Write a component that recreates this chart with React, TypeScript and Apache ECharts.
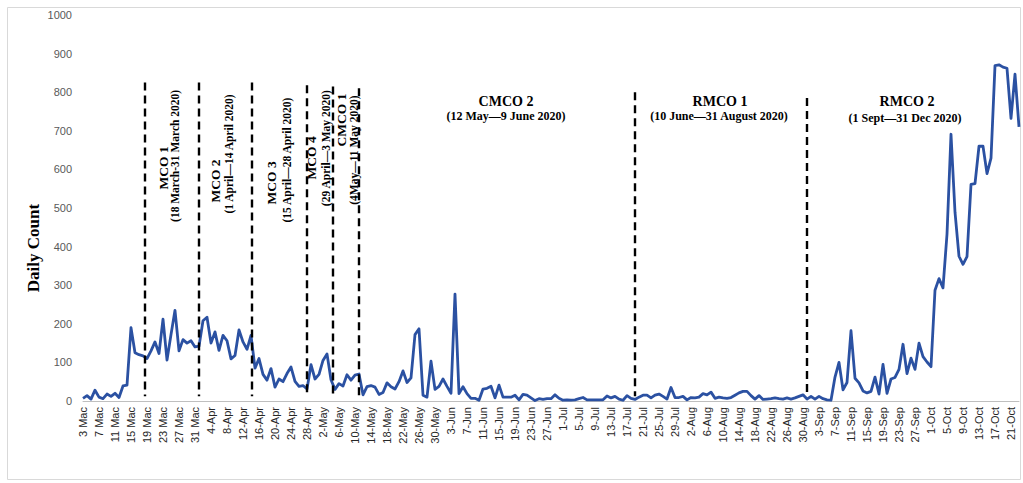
import React, { useEffect, useRef } from "react";
import * as echarts from "echarts";

// Daily counts, 3 March – 23 October 2020
const marchCases = [7, 14, 5, 28, 10, 6, 18, 12, 20, 9, 39, 41, 190, 125, 120, 117, 110, 130, 153, 123, 212, 106, 172, 235, 130, 159, 150, 156, 140];
const aprilCases = [142, 208, 217, 150, 179, 131, 170, 156, 109, 118, 184, 153, 134, 170, 85, 110, 69, 54, 84, 36, 57, 50, 71, 88, 51, 38, 40, 31, 94, 57];
const mayCases = [69, 105, 122, 55, 30, 45, 39, 68, 54, 67, 70, 16, 37, 40, 36, 17, 22, 47, 37, 31, 50, 78, 48, 60, 172, 187, 15, 10, 103, 30, 38];
const juneCases = [57, 38, 20, 277, 19, 37, 19, 7, 7, 2, 31, 33, 38, 8, 41, 10, 10, 10, 15, 3, 17, 15, 8, 1, 6, 4, 6, 6, 16, 7];
const julyCases = [2, 3, 2, 3, 6, 9, 3, 3, 3, 3, 3, 13, 8, 12, 5, 2, 14, 7, 4, 10, 15, 15, 8, 15, 18, 12, 5, 35, 9, 9, 12];
const augustCases = [3, 9, 8, 10, 19, 16, 23, 7, 10, 8, 7, 9, 15, 21, 25, 25, 14, 5, 14, 4, 5, 6, 8, 6, 5, 8, 5, 8, 12, 16, 5];
const septemberCases = [12, 5, 12, 6, 3, 2, 62, 100, 29, 48, 182, 59, 47, 26, 21, 25, 62, 18, 95, 20, 57, 61, 82, 147, 71, 111, 82, 150, 115, 101];
const octoberCases = [89, 287, 317, 293, 432, 691, 489, 375, 354, 374, 561, 563, 660, 660, 589, 629, 869, 871, 865, 862, 732, 847, 710];

const dailyCases = [
  ...marchCases, ...aprilCases, ...mayCases, ...juneCases,
  ...julyCases, ...augustCases, ...septemberCases, ...octoberCases,
];

// One tick label every 4 days
const tickLabels = [
  "3 Mac", "7 Mac", "11 Mac", "15 Mac", "19 Mac", "23 Mac", "27 Mac", "31 Mac",
  "4-Apr", "8-Apr", "12-Apr", "16-Apr", "20-Apr", "24-Apr", "28-Apr",
  "2-May", "6-May", "10-May", "14-May", "18-May", "22-May", "26-May", "30-May",
  "3-Jun", "7-Jun", "11-Jun", "15-Jun", "19-Jun", "23-Jun", "27-Jun",
  "1-Jul", "5-Jul", "9-Jul", "13-Jul", "17-Jul", "21-Jul", "25-Jul", "29-Jul",
  "2-Aug", "6-Aug", "10-Aug", "14-Aug", "18-Aug", "22-Aug", "26-Aug", "30-Aug",
  "3-Sep", "7-Sep", "11-Sep", "15-Sep", "19-Sep", "23-Sep", "27-Sep",
  "1-Oct", "5-Oct", "9-Oct", "13-Oct", "17-Oct", "21-Oct",
];
const tickStep = 4;

// Phase boundary lines (day index from 3 March) and their top values
const phaseLineDays = [15.5, 29, 42.3, 56, 62.5, 69, 138, 181];
const phaseLineTops = [825, 825, 825, 818, 815, 810, 800, 785];
const phaseLineBottom = 12;

// Vertical (rotated) phase labels: [text, day, value, isTitle]
const rotatedLabels: [string, number, number, boolean][] = [
  ["MCO 1", 20, 604, true],
  ["(18 March-31 March 2020)", 23, 635, false],
  ["MCO 2", 33, 570, true],
  ["(1 April—14 April 2020)", 36.5, 640, false],
  ["MCO 3", 47.2, 565, true],
  ["(15 April—28 April 2020)", 51, 624, false],
  ["MCO 4", 57, 630, true],
  ["(29 April—3 May 2020)", 60.8, 655, false],
  ["CMCO 1", 64.5, 728, true],
  ["(4May—11 May 2020)", 67.8, 650, false],
];

// Horizontal phase labels: [text, day, value, isTitle]
const flatLabels: [string, number, number, boolean][] = [
  ["CMCO 2", 105.75, 777, true],
  ["(12 May—9 June 2020)", 105.75, 738, false],
  ["RMCO 1", 159.25, 777, true],
  ["(10 June—31 August 2020)", 159.0, 738, false],
  ["RMCO 2", 206, 775, true],
  ["(1 Sept—31 Dec 2020)", 205.5, 733, false],
];

const yAxisTitle = "Daily Count";

export default function App() {
  const ref = useRef<HTMLDivElement>(null);

  useEffect(() => {
    if (!ref.current) return;
    const chart = echarts.init(ref.current, undefined, { renderer: "svg" });
    const lastDay = dailyCases.length - 1;

    const option: any = {
      animation: false,
      backgroundColor: "#ffffff",
      grid: { left: 83, right: 4, top: 15, bottom: 82, containLabel: false },
      xAxis: {
        type: "value",
        min: 0,
        max: lastDay,
        interval: tickStep,
        axisLine: { show: true, lineStyle: { color: "#bfbfbf", width: 1 } },
        axisTick: { show: false },
        splitLine: { show: false },
        axisLabel: {
          rotate: 90,
          margin: 6,
          fontSize: 11,
          fontFamily: "Liberation Sans",
          color: "#262626",
          showMaxLabel: false,
          formatter: (v: number) =>
            v % tickStep === 0 && tickLabels[v / tickStep] ? tickLabels[v / tickStep] : "",
        },
      },
      yAxis: {
        type: "value",
        min: 0,
        max: 1000,
        interval: 100,
        axisLine: { show: false },
        axisTick: { show: false },
        splitLine: { show: false },
        axisLabel: {
          margin: 11,
          fontSize: 11,
          fontFamily: "Liberation Sans",
          color: "#595959",
          formatter: (v: number) => String(v),
        },
      },
      series: [
        {
          type: "line",
          data: dailyCases.map((v, i) => [i, v]),
          showSymbol: false,
          symbol: "none",
          lineStyle: { color: "#2b51a2", width: 2.8, join: "round" },
          z: 3,
          markLine: {
            silent: true,
            symbol: ["none", "none"],
            label: { show: false },
            lineStyle: { color: "#000000", width: 2.4, type: [8, 5] },
            emphasis: { disabled: true },
            data: phaseLineDays.map((d, i) => [
              { coord: [d, phaseLineTops[i]] },
              { coord: [d, phaseLineBottom] },
            ]),
          },
        },
      ],
    };
    chart.setOption(option);

    const toPx = (d: number, v: number) =>
      chart.convertToPixel({ gridIndex: 0 }, [d, v]) as number[];

    const textStyle = (text: string, isTitle: boolean, big: number, small: number) => ({
      text,
      fill: "#000000",
      fontFamily: "Liberation Serif",
      fontWeight: "bold",
      fontSize: isTitle ? big : small,
      align: "center",
      verticalAlign: "middle",
      textAlign: "center",
      textVerticalAlign: "middle",
    });

    const graphics: any[] = [
      {
        type: "rect",
        shape: { x: 7.5, y: 7.5, width: 1013, height: 472 },
        style: { fill: "none", stroke: "#d9d9d9", lineWidth: 1 },
        silent: true,
      },
      {
        type: "text",
        x: 33,
        y: 248,
        rotation: Math.PI / 2,
        style: textStyle(yAxisTitle, true, 17, 17),
        silent: true,
      },
    ];
    rotatedLabels.forEach(([text, d, v, isTitle]) => {
      const [px, py] = toPx(d, v);
      graphics.push({
        type: "text",
        x: px,
        y: py,
        rotation: Math.PI / 2,
        style: textStyle(text, isTitle, 13.5, 11.5),
        silent: true,
      });
    });
    flatLabels.forEach(([text, d, v, isTitle]) => {
      const [px, py] = toPx(d, v);
      graphics.push({
        type: "text",
        x: px,
        y: py,
        style: textStyle(text, isTitle, 14, 12),
        silent: true,
      });
    });
    chart.setOption({ graphic: graphics });

    return () => chart.dispose();
  }, []);

  return (
    <div
      ref={ref}
      style={{ position: "absolute", left: 0, top: 0, width: 1023, height: 483 }}
    />
  );
}
